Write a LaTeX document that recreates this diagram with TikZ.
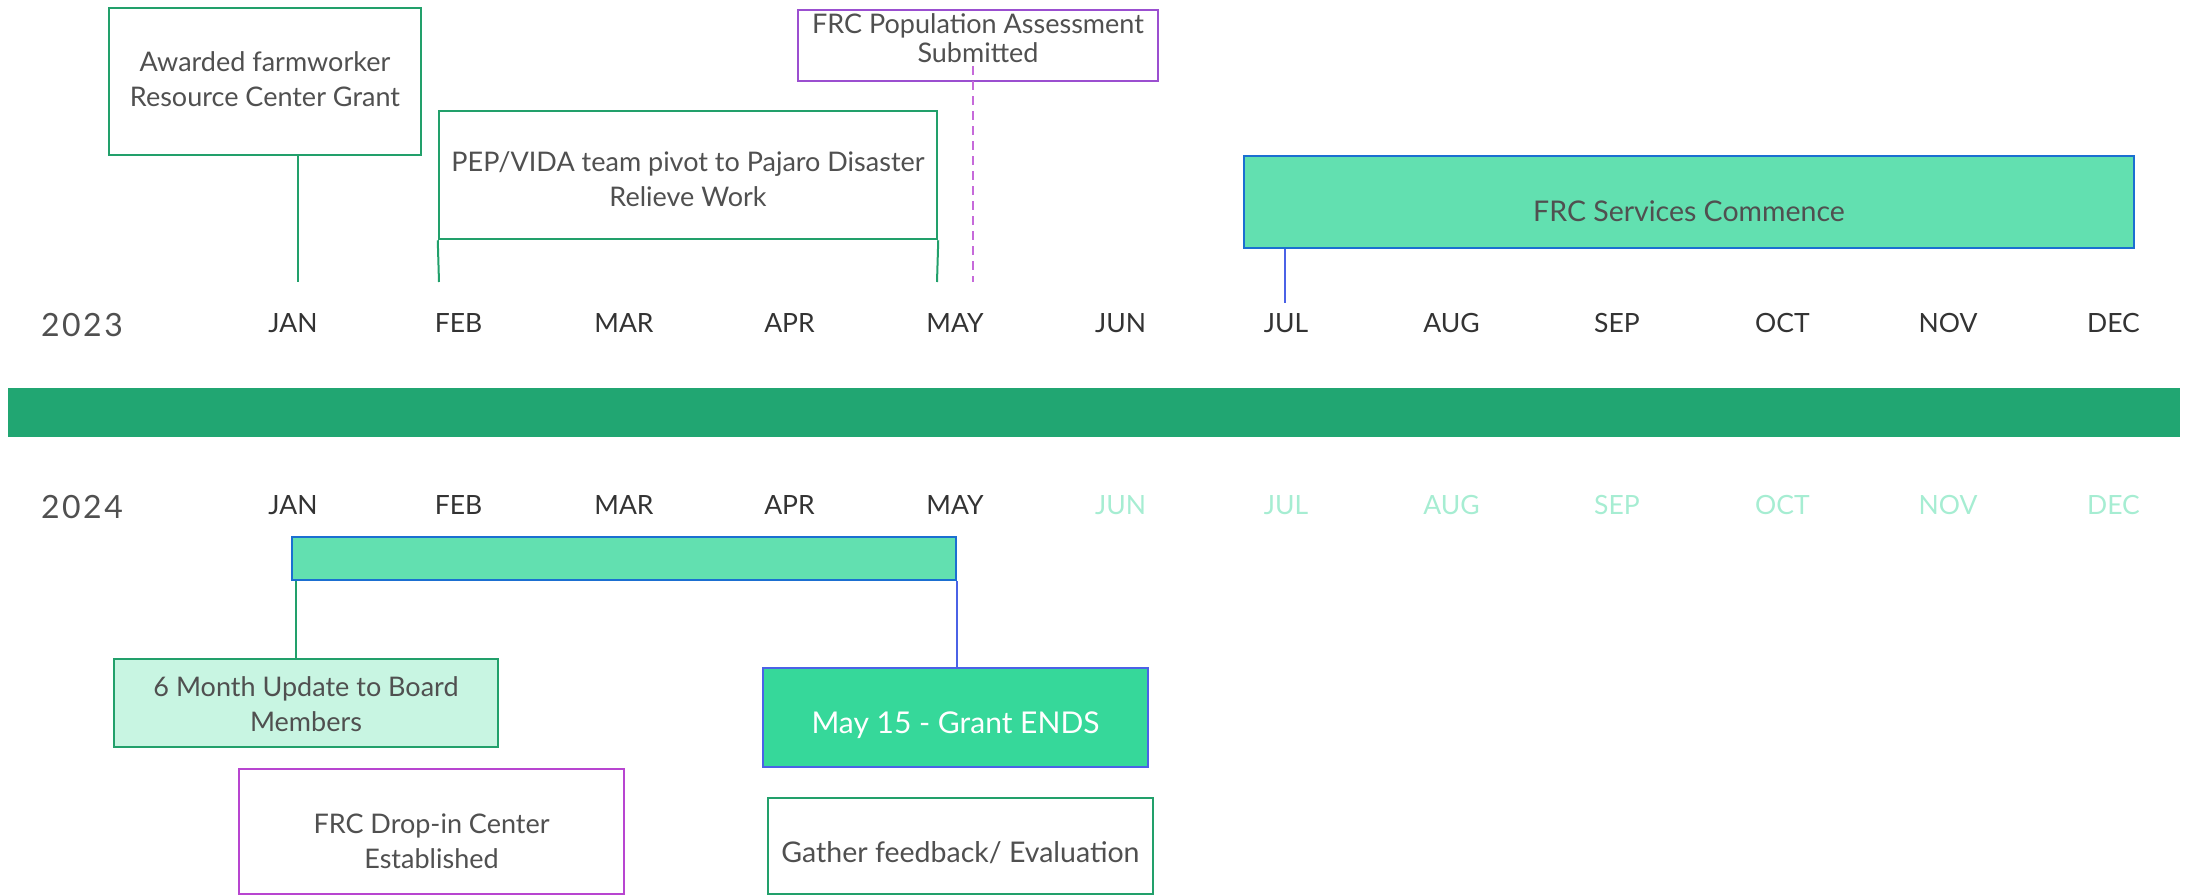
\documentclass[tikz,border=0pt]{standalone}
\usepackage{fontspec}
\setmainfont{Lato}
\usetikzlibrary{positioning}

\definecolor{bargreen}{HTML}{21A672}
\definecolor{boxgreen}{HTML}{22A06B}
\definecolor{mint}{HTML}{62E0B0}
\definecolor{grantgreen}{HTML}{36D89A}
\definecolor{palemint}{HTML}{C8F5E2}
\definecolor{lightmonth}{HTML}{A6EDD2}
\definecolor{boxblue}{HTML}{1B6FD1}
\definecolor{lineblue}{HTML}{4B62E6}
\definecolor{violet}{HTML}{9B4FD0}
\definecolor{magenta}{HTML}{B845D0}
\definecolor{textgray}{HTML}{505050}

\begin{document}
\begin{tikzpicture}[x=1pt, y=-1pt, font=\fontsize{27}{35}\selectfont,
    event/.style={draw=boxgreen, line width=2.5pt, fill=white, text=textgray,
        align=center, inner sep=0pt, text depth=0pt},
    span/.style={draw=boxblue, line width=2.5pt, fill=mint, text=textgray,
        inner sep=0pt, text depth=0pt},
    month/.style={text=black!80, font=\fontsize{26.5}{30}\selectfont},
    year/.style={text=textgray, font=\fontsize{32}{36}\selectfont\addfontfeatures{LetterSpace=8}},
    link/.style={line width=2pt}]
    \useasboundingbox (0,0) rectangle (2196,895);

    % 2023 row
    \node[event, minimum width=312pt, minimum height=147pt, text height=50pt]
        (awarded) at (265,81.5) {Awarded farmworker\\Resource Center Grant};
    \node[event, minimum width=498pt, minimum height=128pt, text height=63pt]
        (pivot) at (688,175) {PEP/VIDA team pivot to Pajaro Disaster\\Relieve Work};
    \node[event, draw=violet, minimum width=360pt, minimum height=71pt,
        font=\fontsize{27}{29}\selectfont, text height=34pt]
        (assess) at (978,45.5) {FRC Population Assessment\\Submitted};
    \node[span, minimum width=890pt, minimum height=92pt, text height=39pt,
        font=\fontsize{28.5}{35}\selectfont]
        (services) at (1689,202) {FRC Services Commence};

    \node[year] (y23) at (82,325) {2023};
    \node[year] (y24) at (82,507) {2024};
    \foreach \m [count=\i from 0] in {JAN,FEB,MAR,APR,MAY,JUN,JUL,AUG,SEP,OCT,NOV,DEC} {
        \node[month] (m23-\i) at (293+165.5*\i,323) {\m};
        \ifnum\i<5
            \node[month] (m24-\i) at (293+165.5*\i,505) {\m};
        \else
            \node[month, text=lightmonth] (m24-\i) at (293+165.5*\i,505) {\m};
        \fi
    }

    \coordinate (jan23) at (298,282);
    \coordinate (feb23) at (439,282);
    \coordinate (may23) at (937,282);
    \coordinate (sub23) at (973,282);
    \coordinate (jul23) at (1285,303);

    \draw[link, boxgreen] (awarded.south -| jan23) -- (jan23);
    \draw[link, boxgreen] (pivot.south west) -- (feb23);
    \draw[link, boxgreen] (pivot.south east) -- (may23);
    \draw[link, magenta!80, dashed, dash pattern=on 9pt off 6pt]
        ([yshift=16pt]assess.south -| sub23) -- (sub23);
    \draw[link, lineblue] (services.south -| jul23) -- (jul23);

    % divider
    \fill[bargreen] (8,388) rectangle (2180,437);

    % 2024 row
    \node[span, minimum width=664pt, minimum height=43pt] (grant24) at (624,558.5) {};
    \node[event, fill=palemint, minimum width=384pt, minimum height=88pt,
        text height=57pt] (update) at (306,703)
        {6 Month Update to Board\\Members};
    \node[event, draw=magenta, minimum width=385pt, minimum height=125pt,
        text height=74pt] (dropin) at (431.5,831.5)
        {FRC Drop-in Center\\Established};
    \node[event, draw=lineblue, fill=grantgreen, text=white,
        font=\fontsize{30}{35}\selectfont,
        minimum width=385pt, minimum height=99pt, text height=31pt] (ends) at (955.5,717.5)
        {May 15 - Grant ENDS};
    \node[event, minimum width=385pt, minimum height=96pt, text height=33pt,
        font=\fontsize{28.5}{35}\selectfont]
        (gather) at (960.5,846)
        {Gather feedback/ Evaluation};

    \draw[link, boxgreen] (grant24.south -| 296,0) -- (update.north -| 296,0);
    \draw[link, lineblue] (grant24.south east) -- (ends.north -| grant24.south east);

\end{tikzpicture}
\end{document}
